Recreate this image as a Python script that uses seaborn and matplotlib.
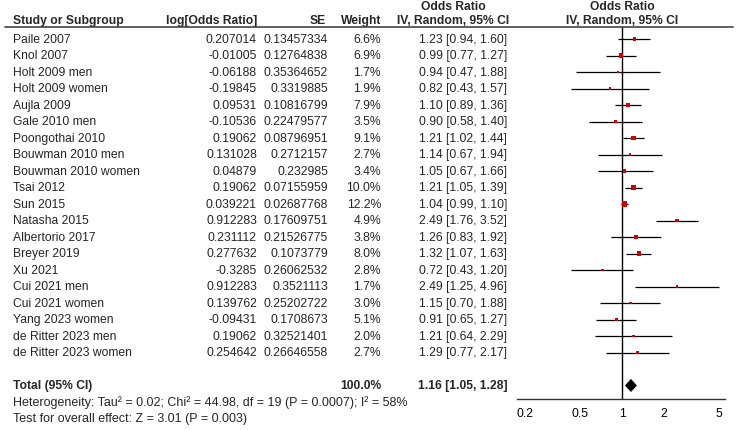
import matplotlib
matplotlib.use("Agg")
import matplotlib.pyplot as plt
import matplotlib.transforms as mtransforms
from matplotlib.lines import Line2D
import seaborn as sns

studies = ['Paile 2007', 'Knol 2007', 'Holt 2009 men', 'Holt 2009 women', 'Aujla 2009',
           'Gale 2010 men', 'Poongothai 2010', 'Bouwman 2010 men', 'Bouwman 2010 women',
           'Tsai 2012', 'Sun 2015', 'Natasha 2015', 'Albertorio 2017', 'Breyer 2019',
           'Xu 2021', 'Cui 2021 men', 'Cui 2021 women', 'Yang 2023 women',
           'de Ritter 2023 men', 'de Ritter 2023 women']
log_or = [0.207014, -0.01005, -0.06188, -0.19845, 0.09531, -0.10536, 0.19062, 0.131028,
          0.04879, 0.19062, 0.039221, 0.912283, 0.231112, 0.277632, -0.3285, 0.912283,
          0.139762, -0.09431, 0.19062, 0.254642]
se = [0.13457334, 0.12764838, 0.35364652, 0.3319885, 0.10816799, 0.22479577, 0.08796951,
      0.2712157, 0.232985, 0.07155959, 0.02687768, 0.17609751, 0.21526775, 0.1073779,
      0.26062532, 0.3521113, 0.25202722, 0.1708673, 0.32521401, 0.26646558]
weight = [6.6, 6.9, 1.7, 1.9, 7.9, 3.5, 9.1, 2.7, 3.4, 10.0, 12.2, 4.9, 3.8, 8.0, 2.8,
          1.7, 3.0, 5.1, 2.0, 2.7]
odds_ratio = [1.23, 0.99, 0.94, 0.82, 1.10, 0.90, 1.21, 1.14, 1.05, 1.21, 1.04, 2.49,
              1.26, 1.32, 0.72, 2.49, 1.15, 0.91, 1.21, 1.29]
ci_low = [0.94, 0.77, 0.47, 0.43, 0.89, 0.58, 1.02, 0.67, 0.67, 1.05, 0.99, 1.76, 0.83,
          1.07, 0.43, 1.25, 0.70, 0.65, 0.64, 0.77]
ci_high = [1.60, 1.27, 1.88, 1.57, 1.36, 1.40, 1.44, 1.94, 1.66, 1.39, 1.10, 3.52, 1.92,
           1.63, 1.20, 4.96, 1.88, 1.27, 2.29, 2.17]

total_weight = 100.0
total_or = 1.16
total_low = 1.05
total_high = 1.28
heterogeneity = 'Heterogeneity: Tau² = 0.02; Chi² = 44.98, df = 19 (P = 0.0007); I² = 58%'
overall_effect = 'Test for overall effect: Z = 3.01 (P = 0.003)'

ticks = [0.2, 0.5, 1, 2, 5]
tick_labels = ['0.2', '0.5', '1', '2', '5']

sns.set_style('white')
plt.rcParams['font.family'] = ['Liberation Sans', 'DejaVu Sans']
plt.rcParams['font.size'] = 8.7

W, H = 739, 431
fig = plt.figure(figsize=(W / 100, H / 100), dpi=100)
# forest panel: x 517..725 px, y 28..400 px (from top)
ax = fig.add_axes([517 / W, (H - 400) / H, 208 / W, 372 / H])

ROW0, STEP = 40, 16.5
def row_of(px):
    return (px - ROW0) / STEP

rows = list(range(len(studies)))
total_row = len(studies) + 1

ax.set_xscale('log')
ax.set_xlim(0.1756, 5.51)
ax.set_ylim(row_of(400), row_of(28))

ax.axvline(1, color='black', lw=1, zorder=1)
ax.hlines(rows, ci_low, ci_high, color='black', lw=0.9, zorder=2)
sns.scatterplot(x=odds_ratio, y=rows, size=weight, sizes=(3, 14),
                marker='s', color='#d40000', linewidth=0, legend=False, ax=ax, zorder=3)

# pooled diamond
ax.fill([total_low, total_or, total_high, total_or],
        [total_row, total_row - 0.4, total_row, total_row + 0.4],
        color='black', lw=0, zorder=3)

ax.set_xticks(ticks)
ax.set_xticklabels(tick_labels)
ax.minorticks_off()
ax.set_yticks([])
ax.tick_params(axis='x', direction='inout', length=6, width=1, pad=3,
               labelsize=8.7, colors='black')
sns.despine(ax=ax, left=True)
ax.spines['bottom'].set_color('#333333')
ax.spines['bottom'].set_linewidth(1)
ax.set_xlabel('')
ax.set_ylabel('')

# table text
tr = mtransforms.blended_transform_factory(fig.transFigure, ax.transData)
def put(px, row, s, ha='left', bold=False, size=None):
    ax.text(px / W, row, s, transform=tr, ha=ha, va='center', fontsize=size,
            fontweight='bold' if bold else 'normal', clip_on=False)

h1, h2 = row_of(7), row_of(21)
put(13, h2, 'Study or Subgroup', bold=True)
put(257, h2, 'log[Odds Ratio]', 'right', True)
put(326, h2, 'SE', 'right', True)
put(381, h2, 'Weight', 'right', True)
put(453, h1, 'Odds Ratio', 'center', True)
put(453, h2, 'IV, Random, 95% CI', 'center', True)
put(622, h1, 'Odds Ratio', 'center', True)
put(622, h2, 'IV, Random, 95% CI', 'center', True)
fig.add_artist(Line2D([5 / W, 733 / W], [(H - 28) / H, (H - 28) / H],
                      transform=fig.transFigure, color='#444444', lw=1.2))

for i in rows:
    put(13, i, studies[i])
    put(257, i, str(log_or[i]), 'right')
    put(328, i, str(se[i]), 'right')
    put(381, i, '%.1f%%' % weight[i], 'right')
    put(507, i, '%.2f [%.2f, %.2f]' % (odds_ratio[i], ci_low[i], ci_high[i]), 'right')

put(13, total_row, 'Total (95% CI)', bold=True)
put(381, total_row, '%.1f%%' % total_weight, 'right', True)
put(507, total_row, '%.2f [%.2f, %.2f]' % (total_or, total_low, total_high), 'right', True)
put(13, row_of(403), heterogeneity, size=9.0)
put(13, row_of(419), overall_effect, size=9.0)

fig.savefig('out.png', dpi=100)
